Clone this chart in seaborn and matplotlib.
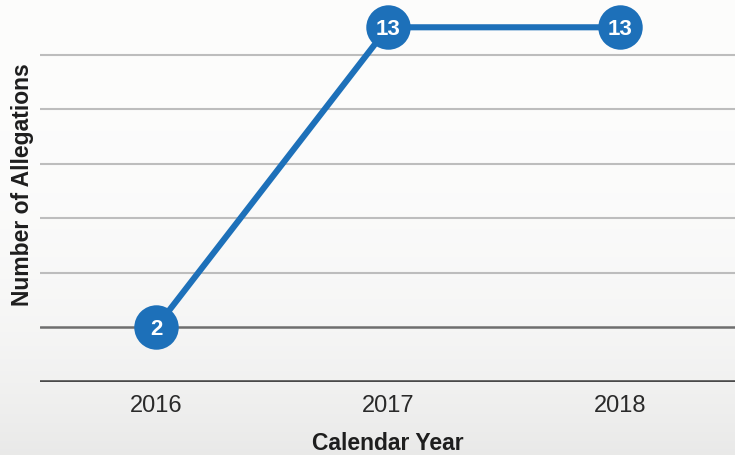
import numpy as np
import pandas as pd
import matplotlib
matplotlib.use("Agg")
import matplotlib.pyplot as plt
import seaborn as sns

# Data
years = ["2016", "2017", "2018"]
allegations = [2, 13, 13]
grid_levels = [0, 2, 4, 6, 8, 10, 12]

blue = "#1d70b9"

sns.set_theme(style="white")
plt.rcParams["font.family"] = ["Liberation Sans", "DejaVu Sans"]

fig = plt.figure(figsize=(7.35, 4.55), dpi=100)

# Paper tone: near white on top, greyer towards the bottom edge
bg = fig.add_axes([0, 0, 1, 1], zorder=-10)
grad = np.linspace(0, 1, 256).reshape(-1, 1) ** 3
top_c = np.array([0.99, 0.99, 0.988])
bot_c = np.array([0.915, 0.915, 0.912])
img = top_c[None, None, :] * (1 - grad[..., None]) + bot_c[None, None, :] * grad[..., None]
bg.imshow(img, aspect="auto", extent=[0, 1, 0, 1])
bg.set_axis_off()

ax = fig.add_axes([40 / 735, 73 / 455, 696 / 735, 382 / 455])
ax.patch.set_alpha(0)

df = pd.DataFrame({"year": years, "count": allegations})
x = np.arange(len(years))

# Horizontal guide lines
for lvl in grid_levels:
    if lvl == 0:
        ax.axhline(lvl, color="#4a4a4a", lw=2.6, zorder=1)
    elif lvl == 2:
        ax.axhline(lvl, color="#6e6e6e", lw=1.8, zorder=1)
    else:
        ax.axhline(lvl, color="#bdbdbd", lw=1.5, zorder=1)

sns.lineplot(x=x, y=df["count"], ax=ax, color=blue, lw=4.4,
             marker="o", markersize=32, markeredgecolor="white",
             markeredgewidth=0, zorder=3)

for xi, v in zip(x, allegations):
    ax.text(xi, v, str(v), ha="center", va="center_baseline", color="white",
            fontsize=16, fontweight="bold", zorder=4)

ax.set_xlim(-0.5, 2.5)
ax.set_ylim(0, 14)
ax.set_xticks(x)
ax.set_xticklabels(years, fontsize=17, color="#2a2a2a")
ax.set_yticks([])
ax.tick_params(axis="x", length=0, pad=9)
for s in ax.spines.values():
    s.set_visible(False)

ax.set_xlabel("Calendar Year", fontsize=16.5, fontweight="bold",
              color="#1e1e1e", labelpad=11)
ax.set_ylabel("Number of Allegations", fontsize=16.5, fontweight="bold",
              color="#1e1e1e")
ax.yaxis.set_label_coords(-6 / 696, (382 - 185) / 382)

fig.savefig("out.png", dpi=100)
